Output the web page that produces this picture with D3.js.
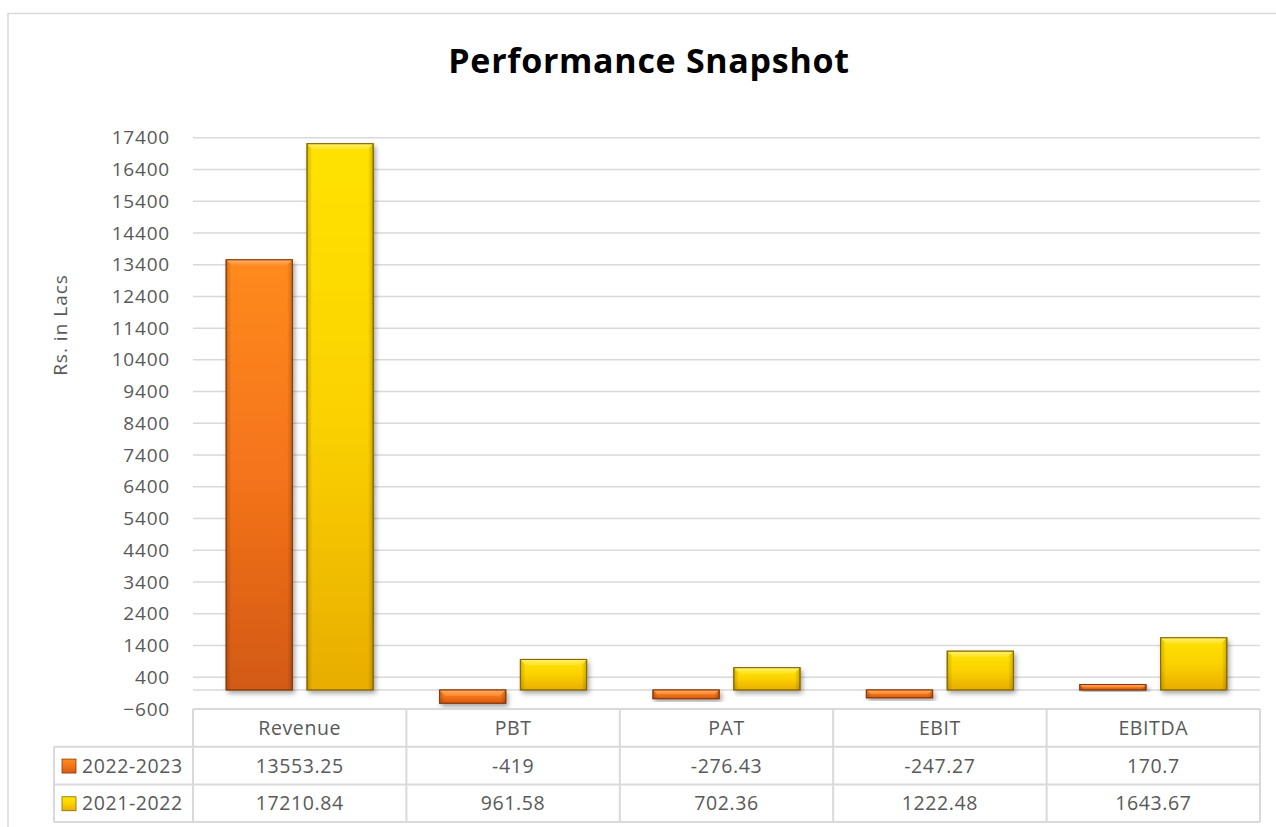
<!DOCTYPE html>
<html>
<head>
<meta charset="utf-8">
<script src="https://cdn.jsdelivr.net/npm/d3@7"></script>
<style>
  body { margin: 0; background: #fff; }
  svg { display: block; font-family: "Open Sans", Lato, sans-serif; }
</style>
</head>
<body>
<svg id="chart" width="1276" height="827"></svg>
<script>
// data
const categories = ['Revenue', 'PBT', 'PAT', 'EBIT', 'EBITDA'];
const seriesNames = ['2022-2023', '2021-2022'];
const fy2023 = [13553.25, -419, -276.43, -247.27, 170.7];
const fy2022 = [17210.84, 961.58, 702.36, 1222.48, 1643.67];
const yTicks = d3.range(-600, 17401, 1000);
const labels2023 = ['13553.25', '-419', '-276.43', '-247.27', '170.7'];
const labels2022 = ['17210.84', '961.58', '702.36', '1222.48', '1643.67'];

const svg = d3.select('#chart');
const textColor = '#595959';
const gridColor = '#d9d9d9';

const plotLeft = 193, plotRight = 1260, plotTop = 137.7, plotBottom = 709;

const y = d3.scaleLinear().domain([-600, 17400]).range([plotBottom, plotTop]);
const x0 = d3.scaleBand().domain(categories).range([plotLeft, plotRight]);
const x1 = d3.scaleBand().domain(seriesNames).range([0, x0.bandwidth()])
    .paddingInner(0.18).paddingOuter(0.41);

// gradients
const defs = svg.append('defs');
function vGrad(id, stops) {
    const g = defs.append('linearGradient').attr('id', id)
        .attr('x1', 0).attr('y1', 0).attr('x2', 0).attr('y2', 1);
    stops.forEach(s => g.append('stop').attr('offset', s[0]).attr('stop-color', s[1]));
}
vGrad('gOrange', [[0, '#ff8a1e'], [0.5, '#f4741a'], [1, '#d35a14']]);
vGrad('gYellow', [[0, '#ffe200'], [0.5, '#fbd200'], [1, '#e8ad00']]);
vGrad('gOrangeTop', [[0, '#ffb06a'], [1, '#ff8a2a']]);
vGrad('gYellowTop', [[0, '#fff27a'], [1, '#ffe21a']]);
const side = defs.append('linearGradient').attr('id', 'gSide')
    .attr('x1', 0).attr('y1', 0).attr('x2', 1).attr('y2', 0);
side.append('stop').attr('offset', 0).attr('stop-color', '#000').attr('stop-opacity', 0.18);
side.append('stop').attr('offset', 0.08).attr('stop-color', '#000').attr('stop-opacity', 0);
side.append('stop').attr('offset', 0.92).attr('stop-color', '#000').attr('stop-opacity', 0);
side.append('stop').attr('offset', 1).attr('stop-color', '#000').attr('stop-opacity', 0.2);

const shadow = defs.append('filter').attr('id', 'shadow')
    .attr('x', '-20%').attr('y', '-20%').attr('width', '150%').attr('height', '150%');
shadow.append('feDropShadow').attr('dx', 2).attr('dy', 3).attr('stdDeviation', 2.5)
    .attr('flood-color', '#000').attr('flood-opacity', 0.35);

// outer border
svg.append('rect').attr('x', 8).attr('y', 13.5).attr('width', 1300).attr('height', 900)
    .attr('fill', 'none').attr('stroke', gridColor).attr('stroke-width', 1.5);

// title
svg.append('text').attr('x', 649).attr('y', 73).attr('text-anchor', 'middle')
    .attr('font-size', 34).attr('font-weight', 'bold').attr('letter-spacing', 0.7)
    .attr('fill', '#000')
    .text('Performance Snapshot');

// gridlines
svg.append('g').selectAll('line').data(yTicks.filter(d => d > -600)).join('line')
    .attr('x1', plotLeft).attr('x2', plotRight)
    .attr('y1', d => y(d)).attr('y2', d => y(d))
    .attr('stroke', gridColor).attr('stroke-width', 1.5);
svg.append('line').attr('x1', plotLeft).attr('x2', plotRight).attr('y1', y(0)).attr('y2', y(0))
    .attr('stroke', gridColor).attr('stroke-width', 1.5);

// y axis labels
const yAxis = svg.append('g').attr('transform', `translate(${plotLeft},0)`)
    .call(d3.axisLeft(y).tickValues(yTicks).tickSize(0).tickPadding(23).tickFormat(d3.format('d')));
yAxis.select('.domain').remove();
yAxis.selectAll('text').attr('font-size', 19).attr('fill', textColor)
    .attr('letter-spacing', 0.8)
    .attr('font-family', '"Open Sans", Lato, sans-serif');

svg.append('text').attr('transform', 'translate(67,325) rotate(-90)')
    .attr('text-anchor', 'middle').attr('font-size', 19).attr('letter-spacing', 1)
    .attr('fill', textColor)
    .text('Rs. in Lacs');

// bars
const rows = categories.map((c, i) => ({ cat: c, vals: [fy2023[i], fy2022[i]] }));
const fills = [['url(#gOrange)', 'url(#gOrangeTop)', '#8a3a0a'], ['url(#gYellow)', 'url(#gYellowTop)', '#8a6a00']];
const groups = svg.append('g').selectAll('g').data(rows).join('g')
    .attr('transform', d => `translate(${x0(d.cat)},0)`);
groups.selectAll('g').data(d => d.vals.map((v, k) => ({ v, k }))).join('g')
    .each(function (d) {
        const g = d3.select(this);
        const bx = x1(seriesNames[d.k]), bw = x1.bandwidth();
        const y0 = y(Math.max(0, d.v)), h = Math.abs(y(d.v) - y(0));
        g.append('rect').attr('x', bx).attr('y', y0).attr('width', bw).attr('height', h)
            .attr('fill', fills[d.k][0]).attr('stroke', fills[d.k][2]).attr('stroke-width', 1)
            .attr('filter', 'url(#shadow)');
        g.append('rect').attr('x', bx).attr('y', y0).attr('width', bw).attr('height', h)
            .attr('fill', 'url(#gSide)');
        const bev = Math.min(6, h / 2);
        g.append('path')
            .attr('d', `M${bx + 0.5},${y0 + 0.5}L${bx + bw - 0.5},${y0 + 0.5}L${bx + bw - bev},${y0 + bev}L${bx + bev},${y0 + bev}Z`)
            .attr('fill', fills[d.k][1]).attr('opacity', 0.9);
        g.append('rect').attr('x', bx).attr('y', y0).attr('width', bw).attr('height', h)
            .attr('fill', 'none').attr('stroke', fills[d.k][2]).attr('stroke-width', 1).attr('stroke-opacity', 0.8);
    });

// data table
const tableTop = plotBottom, rowH = 37.7, legendLeft = 54;
const tbl = svg.append('g').attr('stroke', gridColor).attr('stroke-width', 2).attr('fill', 'none');
tbl.append('line').attr('x1', plotLeft).attr('x2', plotRight).attr('y1', tableTop).attr('y2', tableTop);
[1, 2, 3].forEach(r => tbl.append('line').attr('x1', legendLeft)
    .attr('x2', plotRight).attr('y1', tableTop + r * rowH).attr('y2', tableTop + r * rowH));
tbl.append('line').attr('x1', legendLeft).attr('x2', legendLeft)
    .attr('y1', tableTop + rowH).attr('y2', tableTop + 3 * rowH);
categories.concat(['end']).forEach((c, i) => {
    const xx = i < categories.length ? x0(c) : plotRight;
    tbl.append('line').attr('x1', xx).attr('x2', xx).attr('y1', tableTop).attr('y2', tableTop + 3 * rowH);
});

const tText = svg.append('g').attr('font-size', 19.5).attr('letter-spacing', 0.6)
    .attr('fill', textColor).attr('text-anchor', 'middle');
categories.forEach((c, i) => {
    const cx = x0(c) + x0.bandwidth() / 2;
    tText.append('text').attr('x', cx).attr('y', tableTop + rowH / 2 + 7).text(c);
    tText.append('text').attr('x', cx).attr('y', tableTop + rowH * 1.5 + 7).text(labels2023[i]);
    tText.append('text').attr('x', cx).attr('y', tableTop + rowH * 2.5 + 7).text(labels2022[i]);
});
seriesNames.forEach((s, k) => {
    const cy = tableTop + rowH * (1.5 + k);
    svg.append('rect').attr('x', 62).attr('y', cy - 6.5).attr('width', 14).attr('height', 14)
        .attr('fill', fills[k][0]).attr('stroke', fills[k][2]).attr('stroke-width', 0.8);
    svg.append('text').attr('x', 82).attr('y', cy + 7).attr('font-size', 19.5)
        .attr('letter-spacing', 0.6).attr('fill', textColor).text(s);
});
</script>
</body>
</html>
